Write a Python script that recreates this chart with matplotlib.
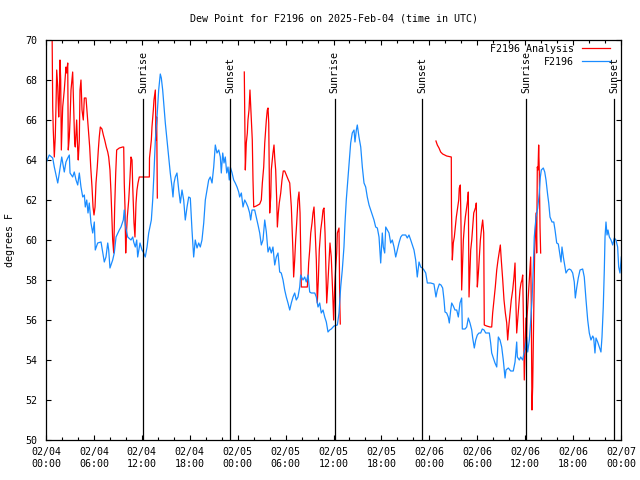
import matplotlib
matplotlib.use('Agg')
import matplotlib.pyplot as plt
import matplotlib.dates as mdates
import numpy as np
import pandas as pd

matplotlib.rcParams['font.family']='DejaVu Sans Mono'
plt.rcParams.update({'font.size':7.2})

t0=pd.Timestamp('2025-02-04 00:00')
# F2196 obs: hours since 02/04 00:00 UTC, dew point degF
obs_h=[0.00,0.41,0.84,1.04,1.47,1.67,1.97,2.29,2.50,2.72,2.92,3.01,3.34,3.54,3.76,3.97,4.17,4.38,4.60,4.80,
	4.92,5.10,5.26,5.42,5.63,5.85,6.05,6.17,6.47,6.89,7.10,7.30,7.51,7.73,7.85,8.01,8.35,8.55,8.77,9.18,
	9.39,9.68,9.80,9.93,10.11,10.23,10.64,10.86,10.98,11.18,11.36,11.48,11.77,12.02,12.18,12.43,12.65,12.86,13.19,13.36,
	13.52,13.69,13.90,14.11,14.31,14.44,14.61,14.78,14.94,15.15,15.36,15.56,15.78,15.90,16.03,16.19,16.40,16.62,16.82,17.03,
	17.24,17.44,17.66,17.87,18.07,18.28,18.49,18.69,18.91,19.12,19.32,19.53,19.75,19.95,20.16,20.37,20.57,20.79,21.00,21.20,
	21.41,21.63,21.83,21.95,22.13,22.29,22.45,22.63,22.79,22.95,23.08,23.30,23.50,23.70,23.92,24.13,24.25,24.46,24.67,24.88,
	25.08,25.29,25.50,25.63,25.80,26.13,26.33,26.55,26.76,26.96,27.17,27.39,27.59,27.80,28.01,28.21,28.42,28.64,28.84,29.05,
	29.26,29.46,29.68,29.89,30.09,30.30,30.52,30.72,30.93,31.14,31.34,31.55,31.77,31.89,32.18,32.39,32.59,32.81,33.02,33.22,
	33.65,33.85,34.06,34.27,34.47,34.69,34.90,35.10,35.31,35.52,35.72,36.06,36.48,36.69,36.90,37.10,37.31,37.44,37.60,37.82,
	37.98,38.15,38.35,38.57,38.69,38.86,38.98,39.19,39.41,39.61,39.82,40.03,40.23,40.45,40.66,40.86,41.07,41.28,41.49,41.70,
	41.91,42.11,42.24,42.41,42.54,42.74,42.95,43.16,43.36,43.58,43.79,43.99,44.20,44.42,44.62,45.04,45.24,45.45,45.67,45.87,
	46.08,46.29,46.49,46.71,46.92,47.12,47.33,47.55,47.75,48.17,48.58,48.83,49.00,49.25,49.46,49.67,49.84,49.96,50.17,50.37,
	50.50,50.68,50.80,51.00,51.21,51.43,51.63,51.84,52.05,52.13,52.47,52.68,52.88,53.09,53.31,53.43,53.63,53.81,54.01,54.22,
	54.43,54.63,54.85,55.06,55.51,55.68,55.81,56.01,56.22,56.44,56.64,56.85,57.06,57.26,57.48,57.60,57.89,58.19,58.51,58.73,
	58.94,59.02,59.27,59.44,59.69,59.85,60.02,60.19,60.32,60.52,60.64,60.86,61.02,61.14,61.36,61.57,61.77,61.90,62.02,62.27,
	62.45,62.61,62.82,62.95,63.11,63.36,63.58,63.74,63.95,64.15,64.36,64.49,64.61,64.78,64.95,65.11,65.33,65.53,65.74,65.95,
	66.15,66.28,66.45,66.65,66.87,67.20,67.40,67.62,67.83,68.03,68.24,68.46,68.58,68.74,68.87,69.08,69.28,69.49,69.62,69.78,
	69.91,70.00,70.12,70.25,70.37,70.54,70.75,70.96,71.16,71.37,71.58,71.71,71.87,72.04]
obs_v=[63.85,64.25,64.1,63.65,62.85,63.35,64.15,63.4,63.9,64.1,64.25,63.35,63.15,63.4,63.0,62.75,63.35,62.65,62.15,62.25,
	61.65,62.0,61.35,61.85,60.85,60.35,60.9,59.5,59.85,59.9,59.4,58.9,59.15,59.85,59.5,58.6,59.0,59.35,60.15,60.5,
	60.65,61.0,61.5,60.75,60.4,60.15,60.0,60.15,59.9,59.65,60.0,59.15,59.85,59.5,59.4,59.15,59.65,60.35,61.0,62.0,
	63.35,65.0,66.15,67.5,68.3,68.1,67.5,66.65,65.85,65.0,64.15,63.35,62.65,62.15,62.85,63.15,63.35,62.5,61.85,62.5,
	62.0,61.0,61.65,62.15,62.1,60.5,59.15,60.0,59.6,59.85,59.65,60.0,60.85,62.0,62.5,63.0,63.15,62.85,63.65,64.75,
	64.35,64.5,64.15,63.35,64.35,63.85,64.15,63.35,63.65,63.0,63.65,63.35,63.0,62.85,62.65,62.4,62.15,62.35,61.65,62.0,
	61.85,61.65,61.35,61.0,61.5,61.5,61.15,60.75,60.35,59.75,60.0,61.0,60.4,59.4,59.65,59.35,59.65,58.75,59.15,59.35,
	58.4,58.35,58.0,57.5,57.15,56.85,56.5,56.85,57.15,57.35,57.0,57.15,57.65,58.25,58.0,58.15,57.9,58.25,57.4,57.35,
	57.35,57.15,56.65,56.85,56.35,56.5,56.15,55.9,55.4,55.5,55.55,55.7,55.75,56.35,57.65,58.5,59.65,60.85,62.0,63.15,
	64.0,64.85,65.35,65.5,64.9,65.5,65.75,65.15,64.65,63.65,62.85,62.65,62.15,61.75,61.5,61.25,61.0,60.65,60.6,60.15,
	58.85,60.35,59.65,59.35,60.65,60.5,60.35,59.85,60.0,59.65,59.15,59.5,59.85,60.15,60.25,60.25,60.1,60.25,60.0,59.75,
	59.5,59.0,58.15,58.9,58.65,58.6,58.5,58.35,57.85,57.85,57.8,57.15,57.5,57.8,57.75,57.6,57.0,56.4,56.35,56.15,
	55.85,56.5,56.85,56.7,56.5,56.5,56.15,56.85,57.1,55.55,55.55,55.65,56.1,55.85,55.5,55.1,54.6,55.0,55.25,55.35,
	55.35,55.55,55.5,55.35,55.35,54.85,54.35,54.1,53.85,53.65,55.15,55.0,54.65,54.0,53.1,53.5,53.6,53.45,53.45,53.9,
	54.9,54.15,54.0,54.15,54.0,54.35,54.65,55.15,54.4,55.0,55.65,57.0,58.65,60.15,61.15,61.6,62.35,63.15,63.5,63.6,
	63.4,63.0,62.25,61.85,61.15,60.9,60.9,60.5,59.85,59.8,59.25,58.9,59.65,59.15,58.75,58.35,58.5,58.55,58.5,58.35,
	57.9,57.1,57.6,58.1,58.5,58.55,58.15,57.0,56.0,55.35,55.0,55.2,55.1,54.35,55.1,54.9,54.65,54.4,55.15,56.65,
	58.5,60.15,60.9,60.25,60.5,60.15,60.0,59.75,60.1,60.0,59.65,58.65,58.35,59.15]

# analysis, three runs with gaps between them
ana1_h=[0.75,0.84,0.91,1.04,1.16,1.25,1.34,1.47,1.59,1.67,1.75,1.84,1.92,2.00,2.09,2.29,2.50,2.59,2.72,2.79,
	2.92,3.01,3.13,3.34,3.47,3.59,3.67,3.84,3.97,4.04,4.17,4.26,4.38,4.51,4.67,4.80,5.01,5.22,5.35,5.47,
	5.60,5.76,5.89,6.01,6.14,6.26,6.42,6.55,6.67,6.80,7.01,7.18,7.35,7.55,7.73,7.85,8.01,8.14,8.26,8.35,
	8.48,8.60,8.73,8.85,9.18,9.60,9.73,9.80,9.89,9.98,10.05,10.18,10.36,10.52,10.64,10.77,10.86,11.02,11.14,11.27,
	11.39,11.52,11.68,12.94,12.96,13.19,13.27,13.44,13.52,13.69,13.78,13.86,13.94]
ana1_v=[71.0,66.65,65.5,64.15,65.15,66.65,68.5,67.65,66.15,67.0,69.0,68.0,64.5,65.5,66.65,67.5,68.65,68.35,68.85,64.5,
	65.15,66.0,67.5,68.4,66.65,64.85,64.65,66.0,64.5,64.0,65.0,67.5,68.0,66.5,66.0,67.1,67.1,66.0,65.35,64.65,
	63.65,62.65,61.65,61.25,61.65,62.85,63.65,64.5,65.15,65.65,65.55,65.25,65.0,64.65,64.4,64.15,63.5,62.35,61.0,60.0,
	59.35,61.65,63.35,64.5,64.6,64.65,64.65,62.85,61.65,59.35,60.15,61.15,62.0,63.15,64.15,64.0,62.65,60.85,60.15,61.85,
	62.5,62.85,63.15,63.15,64.1,65.0,65.65,66.5,67.0,67.5,65.0,66.15,62.1]
ana2_h=[24.83,24.96,25.08,25.21,25.29,25.42,25.54,25.71,25.83,25.92,26.01,26.33,26.76,26.96,27.09,27.26,27.39,27.59,27.71,27.80,
	27.89,28.01,28.14,28.21,28.42,28.55,28.64,28.76,28.89,28.97,29.09,29.21,29.39,29.55,29.71,29.89,30.09,30.30,30.52,30.72,
	30.84,30.93,31.01,31.14,31.26,31.39,31.55,31.68,31.81,31.89,31.97,32.72,32.81,32.89,33.02,33.15,33.31,33.43,33.56,33.68,
	33.85,33.97,34.10,34.22,34.40,34.56,34.69,34.81,34.94,35.06,35.15,35.27,35.40,35.56,35.72,35.90,36.02,36.15,36.28,36.40,
	36.48,36.69,36.78,36.85]
ana2_v=[68.4,63.5,64.85,65.35,66.0,66.5,67.5,66.0,65.0,63.0,61.65,61.7,61.8,62.0,62.85,63.65,64.85,66.0,66.5,66.6,
	65.85,61.35,62.15,63.5,64.35,64.75,64.1,63.5,62.0,60.65,61.35,61.85,62.35,63.0,63.45,63.45,63.25,63.05,62.85,61.65,
	60.35,59.35,58.15,59.0,60.0,60.85,62.0,62.4,61.35,59.5,57.65,57.65,58.15,58.85,59.5,60.35,60.85,61.35,61.65,60.65,
	59.0,56.85,58.0,59.5,60.5,61.0,61.5,61.6,60.35,58.35,56.85,57.65,58.65,59.85,59.15,57.35,56.0,57.65,58.65,59.35,
	60.35,60.6,57.0,55.8]
ana3_h=[48.83,49.00,49.21,49.42,49.67,50.17,50.75,50.77,50.88,51.00,51.13,51.25,51.38,51.55,51.68,51.75,51.88,51.97,52.05,52.13,
	52.26,52.38,52.51,52.68,52.80,52.88,52.97,53.05,53.18,53.31,53.43,53.56,53.68,53.81,53.88,54.01,54.14,54.26,54.39,54.56,
	54.68,54.81,54.88,55.18,55.60,55.81,55.93,56.10,56.26,56.44,56.60,56.76,56.89,57.01,57.19,57.35,57.52,57.69,57.81,57.94,
	58.10,58.26,58.44,58.60,58.73,58.81,58.94,59.06,59.19,59.35,59.48,59.60,59.69,59.81,59.89,59.98,60.10,60.15,60.23,60.35,
	60.48,60.60,60.69,60.76,60.85,60.94,61.02,61.10,61.19,61.27,61.36,61.44,61.52,61.61,61.69,61.77,61.86,61.94]
ana3_v=[64.95,64.75,64.6,64.4,64.3,64.2,64.15,61.65,59.0,59.85,60.15,60.65,61.15,61.65,62.0,62.6,62.75,60.65,57.5,58.5,
	60.0,60.65,61.15,61.65,62.0,62.4,57.15,58.0,59.5,60.0,60.65,61.35,61.5,61.65,61.85,57.65,58.35,59.15,60.0,60.65,
	61.0,60.35,55.75,55.7,55.65,55.65,56.35,57.0,57.65,58.5,59.0,59.4,59.75,59.0,58.0,57.0,56.35,55.85,55.0,55.65,
	56.35,57.0,57.5,58.15,58.85,57.35,55.35,56.0,56.65,57.5,57.85,58.0,58.25,55.35,53.0,54.35,56.1,54.5,56.1,56.9,
	57.85,58.65,59.15,57.0,51.5,52.65,54.85,57.15,59.5,60.35,61.35,59.35,63.65,63.5,64.75,63.35,60.65,59.35]

sun_t=['2025-02-04 12:11','2025-02-04 23:05','2025-02-05 12:10','2025-02-05 23:06','2025-02-06 12:09','2025-02-06 23:07']
sun_lbl=['Sunrise','Sunset','Sunrise','Sunset','Sunrise','Sunset']

def totime(h):
	return t0+pd.to_timedelta(np.asarray(h),unit='h')

# join analysis runs, nan breaks the line
ana_t=np.concatenate([totime(ana1_h),[pd.NaT],totime(ana2_h),[pd.NaT],totime(ana3_h)])
ana_v=np.concatenate([ana1_v,[np.nan],ana2_v,[np.nan],ana3_v])

fig=plt.figure(figsize=(6.4,4.8),dpi=100)
ax=fig.add_axes([46/640,40/480,575/640,400/480])
ax.plot(pd.DatetimeIndex(ana_t),ana_v,color='#ff0000',lw=0.9,label='F2196 Analysis')
ax.plot(totime(obs_h),obs_v,color='#1a8cff',lw=0.9,label='F2196')

for t,s in zip(sun_t,sun_lbl):
	tt=pd.Timestamp(t)
	ax.plot([tt,tt],[50,67.05],color='black',lw=0.9,zorder=5)
	ax.text(tt,67.35,s,rotation=90,ha='center',va='bottom',fontsize=7.2)

ax.set_xlim(t0,t0+pd.Timedelta(hours=72))
ax.set_ylim(50,70)
ax.set_yticks(np.arange(50,70+1,2))
ax.xaxis.set_major_locator(mdates.HourLocator(byhour=range(0,24,6)))
ax.xaxis.set_minor_locator(mdates.HourLocator(byhour=range(0,24,2)))
ax.xaxis.set_major_formatter(mdates.DateFormatter('%m/%d\n%H:%M'))
ax.tick_params('both',direction='in',top=True,right=True,which='both',width=0.8)
ax.tick_params('both',which='major',length=3.8)
ax.tick_params('both',which='minor',length=2)
ax.tick_params('y',pad=6)
ax.tick_params('x',pad=5)
for s in ax.spines.values():
	s.set_linewidth(0.9)

ax.set_ylabel('degrees F')
ax.yaxis.set_label_coords(-0.054,0.5)
ax.set_title('Dew Point for F2196 on 2025-Feb-04 (time in UTC)',pad=13,fontsize=7.2)
ax.legend(loc='upper right',bbox_to_anchor=(0.981,0.99),frameon=False,markerfirst=False,
	borderpad=0,borderaxespad=0,handlelength=2.8,handletextpad=0.8,labelspacing=0.3,fontsize=7.2)

plt.savefig('out.png',dpi=100)
